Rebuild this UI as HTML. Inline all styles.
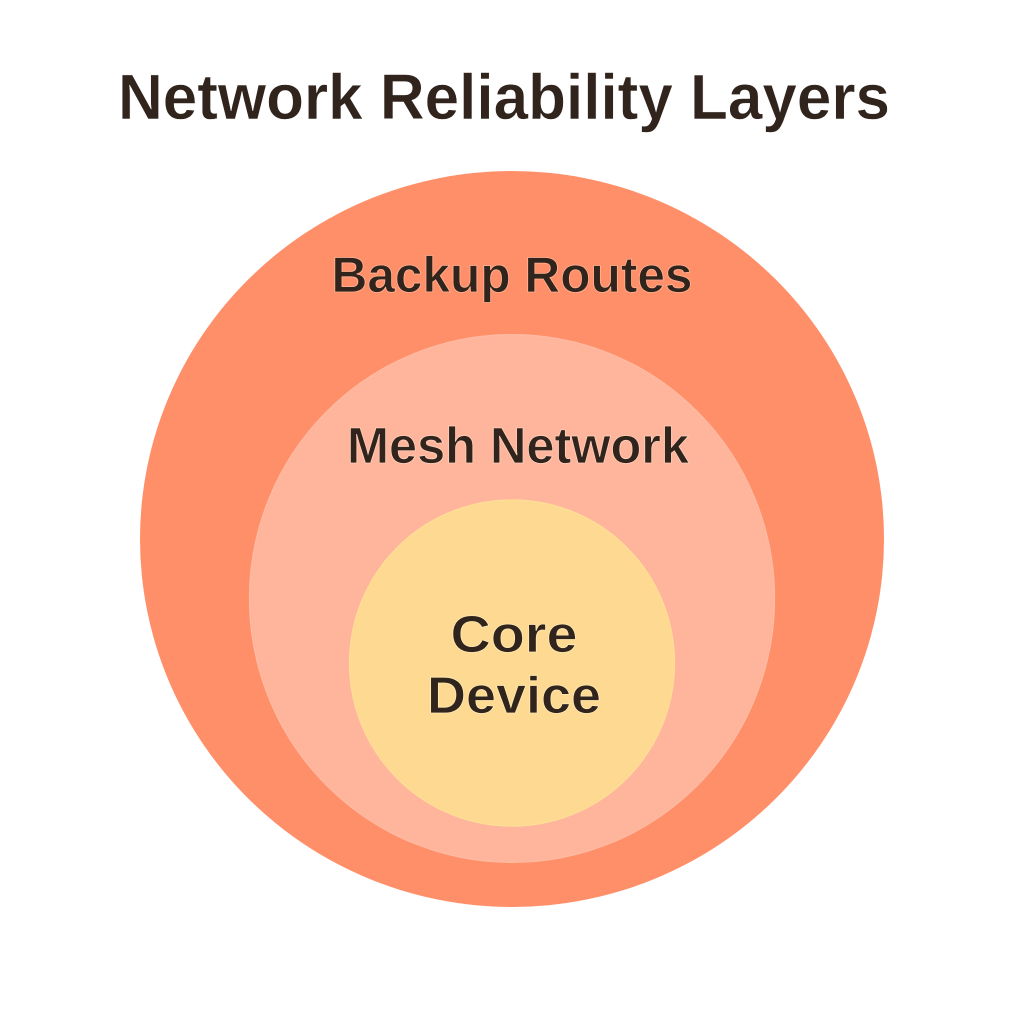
<!DOCTYPE html>
<html>
<head>
<meta charset="utf-8">
<style>
html,body{margin:0;padding:0;background:#fff;width:1024px;height:1024px;overflow:hidden}
svg{display:block}
text{font-family:"Liberation Sans",sans-serif;font-weight:700;fill:#30241d;text-anchor:middle}
</style>
</head>
<body>
<svg width="1024" height="1024" viewBox="0 0 1024 1024" xmlns="http://www.w3.org/2000/svg">
<rect width="1024" height="1024" fill="#ffffff"/>
<ellipse cx="512" cy="539" rx="372" ry="368" fill="#ff8f69"/>
<ellipse cx="512" cy="598.5" rx="262.6" ry="264" fill="#feb59b" stroke="#ffbda6" stroke-width="1"/>
<ellipse cx="512" cy="663" rx="162.6" ry="163.2" fill="#fed991" stroke="#ffdf98" stroke-width="1"/>
<text x="504" y="119" font-size="64" textLength="772" lengthAdjust="spacingAndGlyphs" stroke="#ffffff" stroke-width="0.5">Network Reliability Layers</text>
<text x="512" y="292" font-size="50" textLength="361" lengthAdjust="spacingAndGlyphs" stroke="#ffb494" stroke-width="0.8">Backup Routes</text>
<text x="518" y="463" font-size="51" textLength="342" lengthAdjust="spacingAndGlyphs" stroke="#ffd0bb" stroke-width="0.8">Mesh Network</text>
<text x="514" y="652" font-size="52" textLength="127" lengthAdjust="spacingAndGlyphs" stroke="#ffe9b4" stroke-width="0.8">Core</text>
<text x="514" y="713" font-size="52" textLength="174" lengthAdjust="spacingAndGlyphs" stroke="#ffe9b4" stroke-width="0.8">Device</text>
</svg>
</body>
</html>
